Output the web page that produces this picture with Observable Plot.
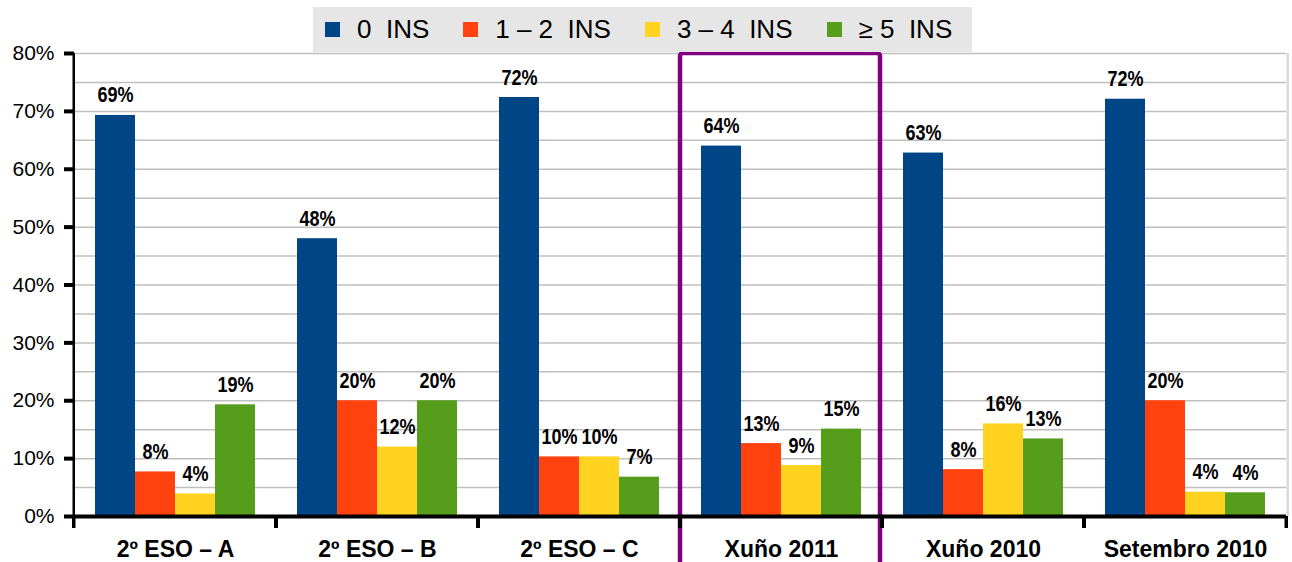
<!DOCTYPE html>
<html><head><meta charset="utf-8">
<script src="https://cdn.jsdelivr.net/npm/d3@7"></script>
<script src="https://cdn.jsdelivr.net/npm/@observablehq/plot@0.6"></script>
<style>
html,body{margin:0;padding:0;background:#fff;}
#wrap{position:relative;width:1292px;height:562px;overflow:hidden;}
#legend{position:absolute;left:313px;top:7px;width:659px;height:45px;background:#e6e6e6;display:flex;align-items:center;padding-left:12px;box-sizing:border-box;font-family:"Liberation Sans",Arial,sans-serif;font-size:26px;color:#000;z-index:2;}
.item{display:flex;align-items:center;margin-right:34px;white-space:pre;}
.sw{width:15px;height:15px;margin-right:17px;flex:none;}
#chart svg{display:block;}
</style></head><body><div id="wrap"><div id="legend"></div><div id="chart"></div></div>
<script>
// ---- data ----
const groups = ["2º ESO – A", "2º ESO – B", "2º ESO – C", "Xuño 2011", "Xuño 2010", "Setembro 2010"];
const series = ["0  INS", "1 – 2  INS", "3 – 4  INS", "≥ 5  INS"];
const colors = ["#004586", "#ff420e", "#ffd320", "#579d1c"];
const ins0  = [69.3, 48.0, 72.4, 64.0, 62.8, 72.1];
const ins12 = [7.7, 20.0, 10.3, 12.6, 8.1, 20.0];
const ins34 = [3.9, 12.0, 10.3, 8.8, 16.0, 4.2];
const ins5  = [19.3, 20.0, 6.8, 15.1, 13.4, 4.1];
const yTicks = [0, 10, 20, 30, 40, 50, 60, 70, 80];
const gridTicks = [5, 10, 15, 20, 25, 30, 35, 40, 45, 50, 55, 60, 65, 70, 75, 80];
const highlight = "Xuño 2011";

// ---- layout ----
const W = 1292, H = 562, mL = 72, mR = 5, mT = 53, mB = 46;
const yMax = 80;
const facetW = (W - mL - mR) / groups.length;
const pxPerUnit = (H - mT - mB) / yMax;
const tickU = 12 / pxPerUnit;

const seriesValues = [ins0, ins12, ins34, ins5];
const rows = groups.flatMap((g, i) => series.map((s, j) => ({group: g, series: s, value: seriesValues[j][i]})));

// legend
const legend = document.getElementById("legend");
series.forEach((s, j) => {
  const it = document.createElement("div"); it.className = "item";
  const sw = document.createElement("div"); sw.className = "sw"; sw.style.background = colors[j];
  const tx = document.createElement("span"); tx.textContent = s;
  it.appendChild(sw); it.appendChild(tx); legend.appendChild(it);
});

const chart = Plot.plot({
  width: W, height: H,
  marginLeft: mL, marginRight: mR, marginTop: mT, marginBottom: mB,
  style: {fontFamily: "'Liberation Sans', Arial, sans-serif", background: "transparent", color: "#000"},
  fx: {domain: groups, padding: 0, label: null, axis: null},
  x: {domain: series, paddingInner: 0, paddingOuter: 0.5, axis: null},
  y: {domain: [0, yMax], label: null, axis: null},
  color: {domain: series, range: colors},
  marks: [
    Plot.gridY(gridTicks, {stroke: "#bfbfbf", strokeOpacity: 1, strokeWidth: 1.5}),
    Plot.rect([groups[groups.length - 1]], {fx: d => d, y1: 0, y2: yMax, fill: "#d9d9d9", insetLeft: facetW, insetRight: -3}),
    Plot.barY(rows, {fx: "group", x: "series", y: "value", fill: "series"}),
    Plot.text(rows, {fx: "group", x: "series", y: "value", text: d => Math.round(d.value) + "%", dy: -20,
      fontSize: 22, fontWeight: "bold", fontFamily: "'Liberation Sans', Arial, sans-serif", fill: "#000"}),
    Plot.rect([highlight], {fx: d => d, y1: yMax, y2: -12, fill: "none", stroke: "#800080", strokeWidth: 4.5, rx: 3, insetLeft: 0, insetRight: 2}),
    Plot.ruleY([0], {stroke: "#000", strokeWidth: 4}),
    Plot.rect(groups, {fx: d => d, y1: -tickU, y2: 0, fill: "#000", insetLeft: -2, insetRight: facetW - 2}),
    Plot.rect(groups, {fx: d => d, y1: -tickU, y2: 0, fill: "#000", insetLeft: facetW - 2, insetRight: -2}),
    Plot.rect([groups[0]], {fx: d => d, y1: -tickU, y2: yMax, fill: "#000", insetLeft: -1.5, insetRight: facetW - 1.5}),
    Plot.axisY(yTicks, {anchor: "left", tickSize: 10, tickPadding: 10, strokeWidth: 4, stroke: "#000",
      tickFormat: d => d + "%", fontSize: 21, fill: "#000", label: null}),
    Plot.axisFx({anchor: "bottom", tickSize: 0, tickPadding: 24, fontSize: 23, fontWeight: "bold", fill: "#000", label: null})
  ]
});
// condense the bar value labels horizontally (narrow bold look), about each label's own anchor
d3.select(chart).selectAll("text").each(function () {
  if (!/^\d+%$/.test(this.textContent.trim())) return;
  if (this.closest('g[aria-label^="y-axis"]')) return;
  const t = this.getAttribute("transform") || "";
  const x = +this.getAttribute("x") || 0;
  if (/translate/.test(t) && !this.hasAttribute("x")) {
    this.setAttribute("transform", t + " scale(0.82,1)");
  } else {
    this.setAttribute("transform", (t ? t + " " : "") + `translate(${x},0) scale(0.82,1) translate(${-x},0)`);
  }
});
document.getElementById("chart").appendChild(chart);
</script>
</body></html>
